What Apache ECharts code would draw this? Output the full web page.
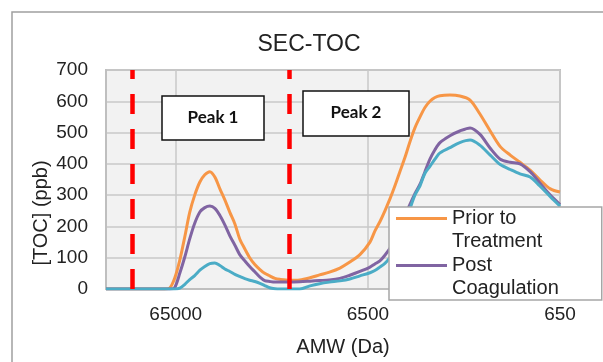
<!DOCTYPE html>
<html>
<head>
<meta charset="utf-8">
<script src="https://cdn.jsdelivr.net/npm/echarts@6/dist/echarts.min.js"></script>
<style>
  html, body { margin: 0; background: #fff; }
  #chart { width: 603px; height: 362px; }
</style>
</head>
<body>
<div id="chart"></div>
<script>
// apparent molecular weight (Da)
const amw = [150000, 88800, 74200, 69900, 65800, 61900, 58300, 55000, 51800, 48700,
  45900, 43200, 40700, 38300, 36100, 34000, 32000, 30200, 28400, 26800,
  25200, 23700, 22400, 21100, 19800, 18700, 16600, 14700, 13000, 11600,
  10300, 9090, 8070, 7150, 6340, 5980, 5630, 5300, 4990, 4700,
  4430, 4170, 3930, 3700, 3480, 3280, 3090, 2910, 2740, 2430,
  2160, 1910, 1700, 1500, 1330, 1180, 1050, 930, 830, 730, 650];

// [TOC] in ppb
const priorToTreatment = [0, 0, 0, 3, 35, 93, 168, 245, 300, 342,
  365, 375, 358, 320, 285, 245, 208, 160, 128, 100,
  78, 62, 50, 42, 34, 31, 28, 29, 36, 45,
  54, 67, 86, 110, 150, 185, 215, 250, 288, 330,
  375, 420, 470, 515, 550, 580, 600, 612, 618, 620,
  617, 604, 560, 505, 455, 428, 405, 380, 350, 320, 310];

const postCoagulation = [0, 0, 0, 0, 5, 51, 103, 160, 210, 246,
  260, 265, 258, 235, 205, 170, 140, 110, 90, 72,
  55, 38, 27, 24, 22, 22, 22, 23, 25, 27,
  29, 34, 44, 56, 70, 80, 90, 108, 130, 160,
  190, 235, 270, 305, 335, 375, 415, 445, 468, 490,
  505, 515, 495, 450, 415, 405, 400, 375, 340, 300, 270];

const series3 = [0, 0, 0, 0, 0, 3, 15, 30, 43, 60,
  72, 81, 83, 75, 64, 56, 47, 40, 33, 28,
  24, 18, 11, 4, 1, 0, 0, 0, 10, 17,
  22, 26, 32, 42, 52, 59, 70, 82, 100, 125,
  160, 200, 255, 300, 330, 370, 392, 415, 435, 452,
  468, 476, 460, 428, 398, 382, 368, 358, 330, 295, 265];

const peakBounds = [109000, 16600];
const xTicks = [65000, 6500, 650];
const legendNames = ['Prior to\nTreatment', 'Post\nCoagulation'];

const font = '"Liberation Sans", Arial, sans-serif';
const textColor = '#222';

const pairs = vals => amw.map((a, i) => [a, vals[i]]);

const chart = echarts.init(document.getElementById('chart'));

chart.setOption({
  animation: false,
  grid: {
    left: 106, right: 43, top: 70, bottom: 73,
    show: true,
    backgroundColor: '#f2f2f2',
    borderColor: '#bfbfbf',
    borderWidth: 2
  },
  xAxis: {
    type: 'log',
    logBase: 10,
    inverse: true,
    min: 650,
    max: 150000,
    axisLine: { lineStyle: { color: '#bfbfbf', width: 2 } },
    axisTick: { show: false, customValues: xTicks },
    axisLabel: {
      customValues: xTicks,
      formatter: v => String(Math.round(v)),
      margin: 16,
      fontSize: 19,
      color: textColor,
      fontFamily: font
    },
    splitLine: { show: true, lineStyle: { color: '#c8c8c8', width: 1.5 } }
  },
  yAxis: {
    type: 'value',
    min: 0,
    max: 700,
    interval: 100,
    axisLine: { show: true, lineStyle: { color: '#bfbfbf', width: 2 } },
    axisTick: { show: false },
    axisLabel: { margin: 18, fontSize: 19, color: textColor, fontFamily: font },
    splitLine: { lineStyle: { color: '#c8c8c8', width: 1.5 } }
  },
  legend: {
    data: legendNames,
    orient: 'vertical',
    left: 389,
    top: 207,
    padding: [0, 43, 0, 7],
    itemGap: 1,
    itemWidth: 51,
    itemHeight: 46,
    // line sits level with the first text row
    icon: 'path://M0,0h0.01v0.01h-0.01z M0,10v3h51v-3z M50.99,45.99h0.01v0.01h-0.01z',
    backgroundColor: '#fff',
    borderColor: '#a6a6a6',
    borderWidth: 1.5,
    selectedMode: false,
    textStyle: { fontSize: 20, lineHeight: 23, color: textColor, fontFamily: font }
  },
  series: [
    {
      name: legendNames[0],
      type: 'line',
      data: pairs(priorToTreatment),
      smooth: 0.3,
      symbol: 'none',
      color: '#F79646',
      lineStyle: { width: 3 }
    },
    {
      name: legendNames[1],
      type: 'line',
      data: pairs(postCoagulation),
      smooth: 0.3,
      symbol: 'none',
      color: '#8064A2',
      lineStyle: { width: 3 }
    },
    {
      name: 'Series 3',
      type: 'line',
      data: pairs(series3),
      smooth: 0.3,
      symbol: 'none',
      color: '#4BACC6',
      lineStyle: { width: 3 },
      markLine: {
        silent: true,
        symbol: 'none',
        label: { show: false },
        lineStyle: { color: '#ff0000', width: 4.5, type: [20, 15] },
        data: peakBounds.map(v => ({ xAxis: v }))
      }
    }
  ],
  graphic: [
    // outer chart frame, cut off by the crop on the right and bottom
    {
      type: 'rect', silent: true, z: -10,
      shape: { x: 12, y: 12, width: 700, height: 500 },
      style: { fill: null, stroke: '#a0a0a0', lineWidth: 1.5 }
    },
    {
      type: 'text', x: 309, y: 45,
      style: { text: 'SEC-TOC', fontSize: 23, fontFamily: font, fill: textColor, align: 'center', verticalAlign: 'middle' }
    },
    {
      type: 'text', x: 41, y: 213, rotation: Math.PI / 2,
      style: { text: '[TOC] (ppb)', fontSize: 20, fontFamily: font, fill: textColor, align: 'center', verticalAlign: 'middle' }
    },
    {
      type: 'text', x: 343, y: 347,
      style: { text: 'AMW (Da)', fontSize: 20, fontFamily: font, fill: textColor, align: 'center', verticalAlign: 'middle' }
    },
    {
      type: 'rect', z: 10,
      shape: { x: 162, y: 96, width: 102, height: 44 },
      style: { fill: '#fff', stroke: '#111', lineWidth: 1.5 }
    },
    {
      type: 'text', x: 213, y: 118, z: 11,
      style: { text: 'Peak 1', fontSize: 17, fontWeight: 'bold', fontFamily: 'Lato, sans-serif', fill: '#111', align: 'center', verticalAlign: 'middle' }
    },
    {
      type: 'rect', z: 10,
      shape: { x: 303, y: 91, width: 106, height: 45 },
      style: { fill: '#fff', stroke: '#111', lineWidth: 1.5 }
    },
    {
      type: 'text', x: 356, y: 113, z: 11,
      style: { text: 'Peak 2', fontSize: 17, fontWeight: 'bold', fontFamily: 'Lato, sans-serif', fill: '#111', align: 'center', verticalAlign: 'middle' }
    }
  ]
});
</script>
</body>
</html>
